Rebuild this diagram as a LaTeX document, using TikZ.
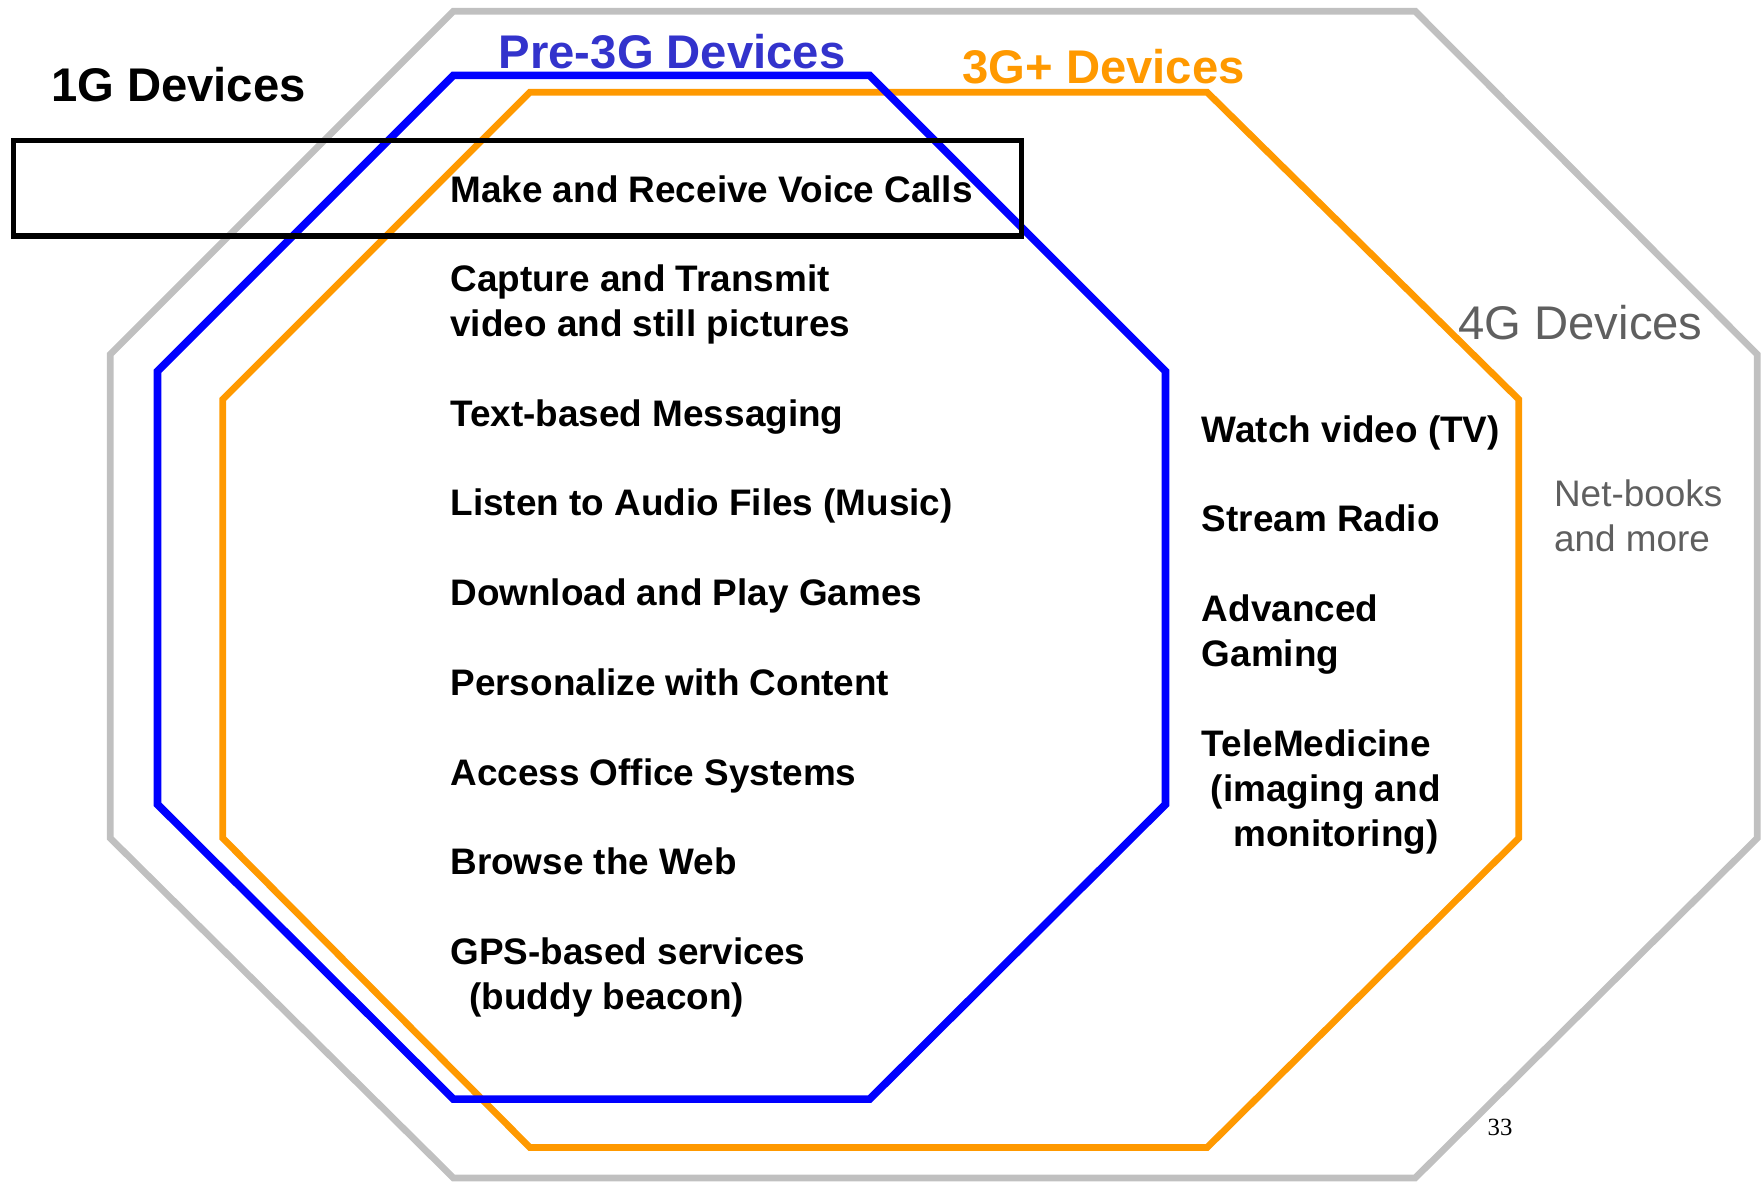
\documentclass[tikz,border=0pt]{standalone}
\usepackage{fontspec}
\setmainfont{Liberation Sans}
\newfontfamily\pageserif{Liberation Serif}
\definecolor{ggray}{HTML}{C0C0C0}
\definecolor{gtext}{HTML}{5F5F5F}
\definecolor{bline}{HTML}{0000FF}
\definecolor{btext}{HTML}{3333CC}
\definecolor{oline}{HTML}{FF9900}
\begin{document}
\begin{tikzpicture}[x=0.5pt,y=-0.5pt,
  txt/.style={anchor=base west,inner sep=0pt,font=\fontsize{16.4}{19}\selectfont\bfseries},
  title/.style={anchor=base west,inner sep=0pt,font=\fontsize{21}{25}\selectfont\bfseries},
  octline/.style={line width=3pt,line join=miter}]
\useasboundingbox (0,0) rectangle (1568,1051);
% gray (4G) octagon
\draw[octline,ggray] (403,10) -- (1258,10) -- (1562,315) -- (1562,745) -- (1258,1047) -- (403,1047) -- (98,745) -- (98,315) -- cycle;
% orange (3G+) octagon
\draw[octline,oline] (471,82) -- (1073,82) -- (1350,355) -- (1350,745) -- (1073,1020) -- (471,1020) -- (198,745) -- (198,355) -- cycle;
% blue (pre-3G) octagon
\draw[octline,bline,line width=3.4pt] (403,67) -- (773,67) -- (1036,330) -- (1036,715) -- (773,977) -- (403,977) -- (140,715) -- (140,330) -- cycle;
% 1G box
\draw[line width=2.5pt] (12,125) rectangle (908,210);
% titles
\node[title] (t1g) at (45,90) {1G Devices};
\node[title,text=btext] (tpre) at (443,61) {Pre-3G Devices};
\node[title,text=oline] (t3g) at (855,74) {3G+ Devices};
\node[anchor=base west,inner sep=0pt,font=\fontsize{21}{25}\selectfont,text=gtext] (t4g) at (1296,302) {4G Devices};
\node[anchor=base west,inner sep=0pt,font=\fontsize{16.4}{19}\selectfont,text=gtext] (net1) at (1381,450) {Net-books};
\node[anchor=base west,inner sep=0pt,font=\fontsize{16.4}{19}\selectfont,text=gtext] (net2) at (1381,490) {and more};
% left list
\node[txt] (a1) at (400,180) {Make and Receive Voice Calls};
\node[txt] (a2) at (400,259) {Capture and Transmit};
\node[txt] (a2b) at (400,299) {video and still pictures};
\node[txt] (a3) at (400,379) {Text-based Messaging};
\node[txt] (a4) at (400,458) {Listen to Audio Files (Music)};
\node[txt] (a5) at (400,538) {Download and Play Games};
\node[txt] (a6) at (400,618) {Personalize with Content};
\node[txt] (a7) at (400,698) {Access Office Systems};
\node[txt] (a8) at (400,777) {Browse the Web};
\node[txt] (a9) at (400,857) {GPS-based services};
\node[txt] (a9b) at (417,897) {(buddy beacon)};
% right list
\node[txt] (b1) at (1068,393) {Watch video (TV)};
\node[txt] (b2) at (1068,472) {Stream Radio};
\node[txt] (b3) at (1068,552) {Advanced};
\node[txt] (b3b) at (1068,592) {Gaming};
\node[txt] (b4) at (1068,672) {TeleMedicine};
\node[txt] (b4b) at (1076,712) {(imaging and};
\node[txt] (b4c) at (1096,752) {monitoring)};
% page number
\node[anchor=base west,inner sep=0pt,font=\pageserif\fontsize{11}{13}\selectfont] (pg) at (1322,1009) {33};
\end{tikzpicture}
\end{document}
